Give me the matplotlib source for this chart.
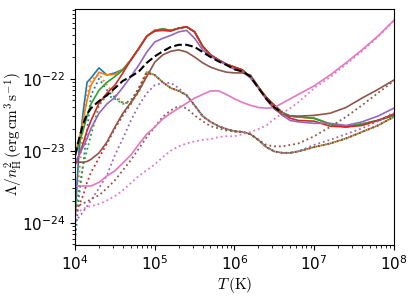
import numpy as np
import matplotlib
matplotlib.use("Agg")
import matplotlib.pyplot as plt

plt.rcParams['mathtext.fontset'] = 'cm'
plt.rcParams['axes.unicode_minus'] = False

# log10 T (K)
logT = [4.0, 4.05, 4.1, 4.15, 4.2, 4.3, 4.4, 4.5, 4.6, 4.7, 4.8, 4.9,
        5.0, 5.1, 5.2, 5.3, 5.4, 5.5, 5.6, 5.7, 5.8, 5.9,
        6.0, 6.1, 6.2, 6.3, 6.4, 6.5, 6.6, 6.7, 6.8,
        7.0, 7.2, 7.4, 7.6, 7.8, 8.0]

# log10 Lambda/nH^2, solid curves
green_solid = [-23.08, -22.90, -22.72, -22.52, -22.35, -22.16, -22.05, -21.97, -21.88, -21.74, -21.58, -21.41,
               -21.33, -21.31, -21.33, -21.30, -21.28, -21.35, -21.55, -21.67, -21.74, -21.80,
               -21.84, -21.88, -21.98, -22.12, -22.26, -22.37, -22.47, -22.52, -22.53,
               -22.55, -22.63, -22.67, -22.63, -22.58, -22.51]
red_solid = [-23.20, -23.06, -22.90, -22.72, -22.58, -22.34, -22.20, -22.09, -21.92, -21.74, -21.58, -21.41,
             -21.34, -21.33, -21.34, -21.30, -21.28, -21.35, -21.55, -21.67, -21.74, -21.80,
             -21.84, -21.88, -21.98, -22.12, -22.26, -22.37, -22.48, -22.55, -22.58,
             -22.59, -22.66, -22.67, -22.65, -22.58, -22.49]
purple_solid = [-23.16, -23.06, -22.95, -22.83, -22.69, -22.48, -22.35, -22.26, -22.12, -21.97, -21.81, -21.63,
                -21.49, -21.44, -21.40, -21.35, -21.33, -21.44, -21.60, -21.69, -21.75, -21.81,
                -21.87, -21.90, -21.99, -22.13, -22.28, -22.41, -22.51, -22.58, -22.60,
                -22.62, -22.62, -22.65, -22.60, -22.52, -22.41]
blue_solid = [-23.90, -22.99, -22.47, -22.05, -21.99, -21.85, -21.95, -21.92, -21.87, -21.74, -21.58, -21.41] + green_solid[12:]
orange_solid = [-23.02, -22.85, -22.58, -22.30, -22.09, -21.91, -21.95, -21.94, -21.87, -21.74, -21.58, -21.41] + green_solid[12:]
brown_solid = [-23.16, -23.16, -23.16, -23.15, -23.12, -23.03, -22.88, -22.67, -22.48, -22.33, -22.17, -21.97,
               -21.77, -21.67, -21.62, -21.60, -21.63, -21.70, -21.78, -21.84, -21.88, -21.91,
               -21.92, -21.92, -21.95, -22.11, -22.29, -22.42, -22.49, -22.52, -22.52,
               -22.51, -22.48, -22.40, -22.27, -22.15, -22.02]
pink_solid = [-23.49, -23.49, -23.49, -23.49, -23.49, -23.44, -23.35, -23.28, -23.17, -23.06, -22.91, -22.77,
              -22.67, -22.56, -22.48, -22.41, -22.34, -22.27, -22.22, -22.17, -22.17, -22.22,
              -22.28, -22.33, -22.37, -22.40, -22.41, -22.40, -22.34, -22.28, -22.22,
              -22.10, -21.95, -21.78, -21.60, -21.41, -21.19]
black_dashed = [-23.06, -22.83, -22.63, -22.49, -22.41, -22.31, -22.23, -22.13, -22.03, -21.97, -21.90, -21.78,
                -21.69, -21.62, -21.56, -21.53, -21.53, -21.56, -21.63, -21.70, -21.76, -21.81,
                -21.87, -21.90, -21.97, -22.13, -22.28, -22.40, -22.47]

# dotted curves: shared branch above 1e5 K
cluster_dot = [-21.95, -22.05, -22.13, -22.17, -22.23, -22.37, -22.52, -22.60, -22.66, -22.70,
               -22.73, -22.74, -22.77, -22.85, -22.95, -23.01, -23.03, -23.03, -23.01,
               -22.95, -22.90, -22.83, -22.74, -22.65, -22.53]
blue_dot = [-24.24, -23.62, -23.20, -22.72, -22.23, -22.00, -22.16, -22.26, -22.34, -22.33, -22.16, -21.91] + cluster_dot
orange_dot = [-24.03, -23.34, -22.65, -22.23, -22.02, -21.94, -22.09, -22.23, -22.33, -22.34, -22.19, -21.91] + cluster_dot
green_dot = [-23.90, -23.55, -23.20, -22.99, -22.78, -22.37, -22.23, -22.28, -22.35, -22.30, -22.13, -21.90] + cluster_dot
red_dot = [-23.90, -23.76, -23.62, -23.44, -23.30, -23.10, -22.90, -22.69, -22.51, -22.35, -22.13, -21.92] + cluster_dot
purple_dot = [-23.99, -23.92, -23.85, -23.77, -23.69, -23.52, -23.34, -23.06, -22.83, -22.58, -22.37, -22.20,
              -22.09, -22.06, -22.06, -22.13, -22.24, -22.38] + cluster_dot[6:19] + \
             [-22.92, -22.85, -22.77, -22.69, -22.59, -22.47]
brown_dot = [-23.78, -23.76, -23.73, -23.71, -23.67, -23.62, -23.52, -23.41, -23.27, -23.13, -22.97, -22.81,
             -22.67, -22.53, -22.44, -22.38, -22.41, -22.51, -22.59, -22.66, -22.69, -22.72,
             -22.73, -22.74, -22.77, -22.85, -22.92, -22.94, -22.94, -22.92, -22.90,
             -22.80, -22.67, -22.53, -22.37, -22.20, -22.03]
pink_dot = [-23.85, -23.84, -23.81, -23.78, -23.77, -23.74, -23.69, -23.63, -23.55, -23.45, -23.35, -23.27,
            -23.19, -23.09, -23.00, -22.94, -22.90, -22.87, -22.85, -22.84, -22.81, -22.80,
            -22.80, -22.77, -22.74, -22.70, -22.65, -22.56, -22.48, -22.41, -22.33,
            -22.13, -21.98, -21.80, -21.62, -21.42, -21.20]

solids = [blue_solid, orange_solid, green_solid, red_solid, purple_solid, brown_solid, pink_solid]
dots = [blue_dot, orange_dot, green_dot, red_dot, purple_dot, brown_dot, pink_dot]

T = 10 ** np.array(logT)

fig = plt.figure(figsize=(4.15, 2.97), dpi=100)
ax = fig.add_axes([0.181, 0.175, 0.768, 0.795])

for i, (s, d) in enumerate(zip(solids, dots)):
    c = 'C%d' % i
    ax.plot(T, 10 ** np.array(s), color=c, lw=1.2)
    ax.plot(T, 10 ** np.array(d), color=c, lw=1.3, ls=':')
ax.plot(T[:len(black_dashed)], 10 ** np.array(black_dashed), color='k', lw=1.5, ls='--')

ax.set_xscale('log')
ax.set_yscale('log')
ax.set_xlim(1e4, 1e8)
ax.set_ylim(4.9e-25, 9.3e-22)
ax.tick_params(labelsize=11)
ax.set_xlabel(r'$T\,({\rm K})$', fontsize=11)
ax.set_ylabel(r'$\Lambda/n_{\rm H}^2\,({\rm erg\,cm^3\,s^{-1}})$', fontsize=11)
ax.xaxis.set_label_coords(0.5, -0.125)
ax.yaxis.set_label_coords(-0.157, 0.47)

fig.savefig('out.png', dpi=100)
